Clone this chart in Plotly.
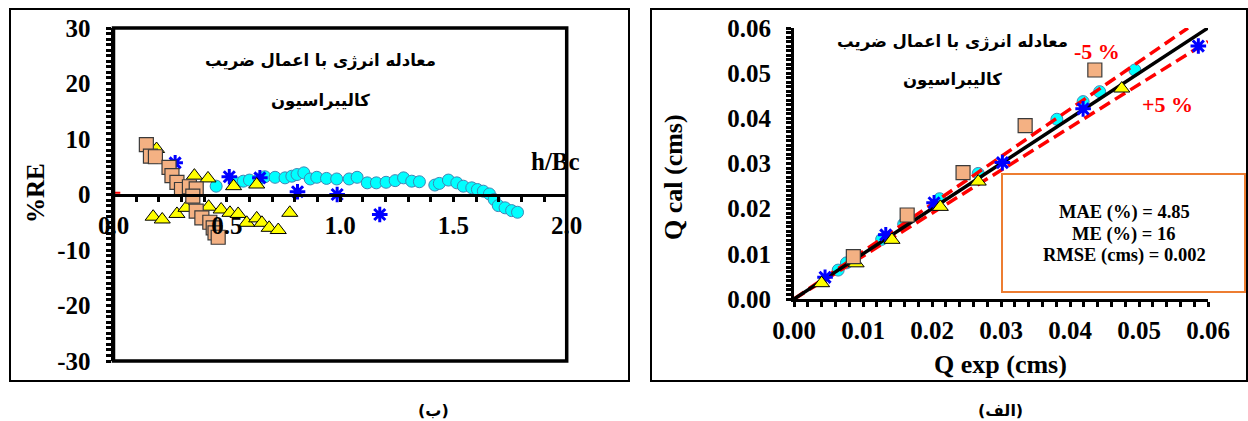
import plotly.graph_objects as go

W, H = 1248, 421

# ---------------- Left panel data: %RE vs h/Bc ----------------
sq_hb = [0.145, 0.163, 0.185, 0.245, 0.258, 0.28, 0.30, 0.335, 0.365, 0.35, 0.365, 0.39, 0.425, 0.44, 0.448, 0.462]
sq_re = [9.0, 6.9, 6.8, 4.9, 3.4, 2.2, 0.9, 1.4, 1.0, -0.3, -3.0, -4.2, -5.0, -6.0, -6.9, -7.7]

tri_hb = [0.19, 0.175, 0.215, 0.28, 0.32, 0.357, 0.417, 0.42, 0.475, 0.514, 0.53, 0.55, 0.588, 0.632, 0.632, 0.655, 0.687, 0.727, 0.778]
tri_re = [8.2, -4.0, -4.5, -3.5, -2.4, 3.4, 2.9, -2.2, -2.7, -3.3, 1.5, -3.5, -5.1, 1.8, -4.3, -5.1, -6.0, -6.4, -3.3]

star_hb = [0.272, 0.511, 0.646, 0.812, 0.987, 1.175]
star_re = [5.7, 3.2, 3.0, 0.5, 0.0, -3.6]

circ_hb = [0.453, 0.543, 0.573, 0.60, 0.643, 0.668, 0.713, 0.757, 0.787, 0.81, 0.84, 0.868, 0.897, 0.94,
           0.985, 1.04, 1.075, 1.12, 1.16, 1.203, 1.243, 1.28, 1.316, 1.35, 1.418, 1.438, 1.478, 1.515,
           1.544, 1.581, 1.606, 1.632, 1.659, 1.68, 1.698, 1.728, 1.757, 1.783]
circ_re = [1.5, 2.1, 2.4, 2.6, 2.8, 3.2, 3.1, 3.0, 3.3, 3.6, 3.9, 2.8, 3.1, 2.9,
           2.8, 2.8, 3.1, 2.1, 2.1, 2.2, 2.5, 3.0, 2.4, 2.3, 1.7, 2.0, 2.6, 2.1,
           1.5, 1.2, 0.9, 0.6, 0.1, -0.9, -2.0, -2.4, -2.9, -3.2]

red_hb = [0.0, 0.03]
red_re = [0.3, 0.3]

left_yticks = [30, 20, 10, 0, -10, -20, -30]
left_yticktext = ["30", "20", "10", "0", "-10", "-20", "-30"]
left_xticks = [0.0, 0.5, 1.0, 1.5, 2.0]
left_xticktext = ["0.0", "0.5", "1.0", "1.5", "2.0"]

# ---------------- Right panel data: Q cal vs Q exp ----------------
sq_qe = [0.0086, 0.0164, 0.0245, 0.0335, 0.0436]
sq_qc = [0.0094, 0.0186, 0.0280, 0.0384, 0.0507]

tri_qe = [0.0040, 0.0090, 0.0142, 0.0212, 0.0267, 0.0475]
tri_qc = [0.0035, 0.0079, 0.0131, 0.0204, 0.0260, 0.0466]

star_qe = [0.0045, 0.0133, 0.0203, 0.0302, 0.0419, 0.0586]
star_qc = [0.0048, 0.0142, 0.0213, 0.0302, 0.0421, 0.0560]

circ_qe = [0.0064, 0.0076, 0.0127, 0.0159, 0.0211, 0.0267, 0.0381, 0.0419, 0.0443, 0.0494]
circ_qc = [0.0064, 0.0080, 0.0132, 0.0166, 0.0222, 0.0278, 0.0398, 0.0437, 0.0459, 0.0507]

line_x = [0.0, 0.06]
line_y = [0.0, 0.06]
upper_x = [0.0, 0.0571]
upper_y = [0.0, 0.06]
lower_x = [0.0, 0.06]
lower_y = [0.0, 0.057]

stats_lines = ["MAE (%) = 4.85", "ME (%) = 16", "RMSE (cms) = 0.002"]
title_fa_1 = "معادله انرژی با اعمال ضریب"
title_fa_2 = "کالیبراسیون"

# ---------------- styles ----------------
SERIF = "Liberation Serif"
FA = "DejaVu Sans"
SQ_COLOR = "#F4B183"
TRI_COLOR = "#FFFF00"
CIRC_COLOR = "#00FFFF"
CIRC_EDGE = "#3F86B5"
STAR_COLOR = "#0000FF"

def px_x(p):
    return p / W

def px_y(p):
    return (H - p) / H

L_dom_x = [px_x(113.5), px_x(566.7)]
L_dom_y = [px_y(361), px_y(28)]
R_dom_x = [px_x(794), px_x(1208)]
R_dom_y = [px_y(299), px_y(28)]

fig = go.Figure()

def add_markers(x, y, xa, ya, symbol, size, color, edge, ew):
    fig.add_trace(go.Scatter(
        x=x, y=y, mode="markers", xaxis=xa, yaxis=ya, showlegend=False,
        marker=dict(symbol=symbol, size=size, color=color, line=dict(color=edge, width=ew)),
    ))

# Left panel traces
fig.add_trace(go.Scatter(x=red_hb, y=red_re, mode="lines", xaxis="x", yaxis="y", showlegend=False,
                         line=dict(color="#FF0000", width=2)))
add_markers(circ_hb, circ_re, "x", "y", "circle", 12, CIRC_COLOR, CIRC_EDGE, 1)
add_markers(star_hb, star_re, "x", "y", "asterisk-open", 13, STAR_COLOR, STAR_COLOR, 3)
add_markers(tri_hb, tri_re, "x", "y", "triangle-up", 14, TRI_COLOR, "#000000", 1)
add_markers(sq_hb, sq_re, "x", "y", "square", 14, SQ_COLOR, "#3a3a3a", 1.2)

# Right panel traces
add_markers(circ_qe, circ_qc, "x2", "y2", "circle", 12, CIRC_COLOR, CIRC_EDGE, 1)
fig.add_trace(go.Scatter(x=upper_x, y=upper_y, mode="lines", xaxis="x2", yaxis="y2", showlegend=False,
                         line=dict(color="#FF0000", width=3.5, dash="12px,6px")))
fig.add_trace(go.Scatter(x=lower_x, y=lower_y, mode="lines", xaxis="x2", yaxis="y2", showlegend=False,
                         line=dict(color="#FF0000", width=3.5, dash="12px,6px")))
fig.add_trace(go.Scatter(x=line_x, y=line_y, mode="lines", xaxis="x2", yaxis="y2", showlegend=False,
                         line=dict(color="#000000", width=3.5)))
add_markers(star_qe, star_qc, "x2", "y2", "asterisk-open", 13, STAR_COLOR, STAR_COLOR, 3)
add_markers(tri_qe, tri_qc, "x2", "y2", "triangle-up", 14, TRI_COLOR, "#000000", 1)
add_markers(sq_qe, sq_qc, "x2", "y2", "square", 14, SQ_COLOR, "#3a3a3a", 1.2)

tickfont = dict(family=SERIF, size=25, color="#000000", weight="bold")

common = dict(showgrid=False, zeroline=False, showline=True, linecolor="#000000", linewidth=3,
              ticks="outside", ticklen=5, tickwidth=3, tickcolor="#000000", tickfont=tickfont,
              automargin=False)

fig.update_layout(
    template="none",
    width=W, height=H,
    margin=dict(l=0, r=0, t=0, b=0, autoexpand=False),
    paper_bgcolor="white", plot_bgcolor="white",
    showlegend=False,
    xaxis=dict(
        domain=L_dom_x, range=[0, 2.0], anchor="free", position=(L_dom_y[0] + L_dom_y[1]) / 2,
        tickvals=left_xticks, ticktext=left_xticktext,
        minor=dict(dtick=0.1, ticks="outside", ticklen=5, tickwidth=3, tickcolor="#000000"),
        ticklabelstandoff=2, **common,
    ),
    yaxis=dict(
        domain=L_dom_y, range=[-30, 30], anchor="x",
        tickvals=left_yticks, ticktext=left_yticktext,
        minor=dict(dtick=1, ticks="outside", ticklen=5, tickwidth=3, tickcolor="#000000"),
        ticklabelstandoff=10, **common,
    ),
    xaxis2=dict(
        domain=R_dom_x, range=[0, 0.06], anchor="y2",
        dtick=0.01, tickformat=".2f",
        minor=dict(dtick=0.002, ticks="outside", ticklen=5, tickwidth=3, tickcolor="#000000"),
        ticklabelstandoff=2, **common,
    ),
    yaxis2=dict(
        domain=R_dom_y, range=[0, 0.06], anchor="x2",
        dtick=0.01, tickformat=".2f",
        minor=dict(dtick=0.001, ticks="outside", ticklen=5, tickwidth=3, tickcolor="#000000"),
        ticklabelstandoff=10, **common,
    ),
)

shapes = []
# outer panel frames
shapes.append(dict(type="rect", xref="paper", yref="paper", x0=px_x(10), x1=px_x(629), y0=px_y(381), y1=px_y(9),
                   line=dict(color="#000000", width=2), layer="below"))
shapes.append(dict(type="rect", xref="paper", yref="paper", x0=px_x(651), x1=px_x(1247), y0=px_y(381), y1=px_y(9),
                   line=dict(color="#000000", width=2), layer="below"))
# left plot area frame
shapes.append(dict(type="rect", xref="x domain", yref="y domain", x0=0, x1=1, y0=0, y1=1,
                   line=dict(color="#000000", width=3.5)))
# stats box on right
shapes.append(dict(type="rect", xref="paper", yref="paper", x0=px_x(1002), x1=px_x(1245), y0=px_y(292), y1=px_y(174),
                   line=dict(color="#ED7D31", width=2), fillcolor="white"))
fig.update_layout(shapes=shapes)

ann = []
def text(x, y, s, size, family=SERIF, color="#000000", angle=0, weight="bold"):
    ann.append(dict(xref="paper", yref="paper", x=px_x(x), y=px_y(y), text=s, showarrow=False,
                    xanchor="center", yanchor="middle", textangle=angle,
                    font=dict(family=family, size=size, color=color, weight=weight)))

# left panel texts
text(320, 61, title_fa_1, 16.5, family=FA)
text(320, 101, title_fa_2, 16.5, family=FA)
text(555, 162, "h/Bc", 25)
text(35, 193, "%RE", 25, angle=-90)
text(433, 410, "(ب)", 16, family=FA)

# right panel texts
text(953, 42, title_fa_1, 16.5, family=FA)
text(953, 80, title_fa_2, 16.5, family=FA)
text(1097, 52, "-5 %", 22, color="#FF0000")
text(1167, 104, "+5 %", 22, color="#FF0000")
text(674, 177, "Q cal (cms)", 26, angle=-90)
text(1000, 364, "Q exp (cms)", 26)
text(1000, 410, "(الف)", 16, family=FA)
text(1124, 212, stats_lines[0], 18.5)
text(1124, 234, stats_lines[1], 18.5)
text(1124, 255, stats_lines[2], 18.5)

fig.update_layout(annotations=ann)

fig.write_html("out.html")
